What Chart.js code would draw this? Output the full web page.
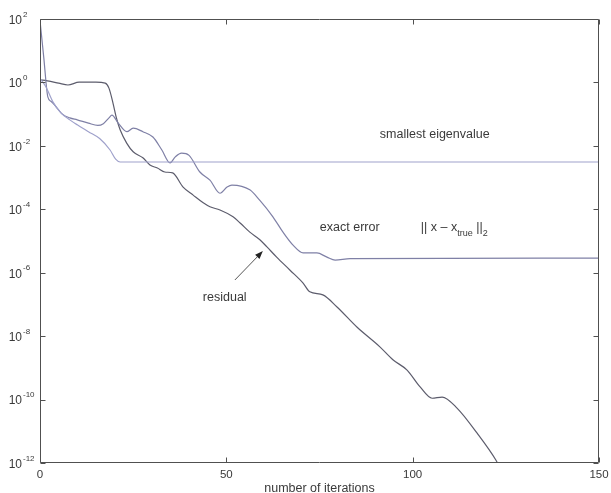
<!DOCTYPE html>
<html>
<head>
<meta charset="utf-8">
<title>Convergence history</title>
<script src="https://cdn.jsdelivr.net/npm/chart.js@4.4.0/dist/chart.umd.min.js"></script>
<style>
  html, body { margin: 0; padding: 0; background: #ffffff; }
  canvas { display: block; }
</style>
</head>
<body>
<canvas id="convChart" width="611" height="493"></canvas>
<script>
// Smallest eigenvalue estimate per iteration
const eigIter = [0, 1.6, 3.5, 5.6, 8, 10, 13, 16, 18.8, 20.3, 21.5, 150];
const eigVals = [1.32, 0.72, 0.24, 0.11, 0.066, 0.046, 0.028, 0.017, 0.0074, 0.0038, 0.0031, 0.0031];

// Exact error || x - x_true ||_2
const errIter = [0, 1, 2.1, 3, 4, 6, 8, 10, 13, 15.5, 17, 18.5, 19.3, 21, 23.3, 25, 27.6, 30.3, 32.7, 34.9,
  36.3, 38, 40, 42.9, 45.6, 48.3, 50.2, 51.5, 56.3, 59, 62.5, 65.2, 67.9, 70.6, 74.3, 77, 79.2, 83.2, 150];
const errVals = [89, 6.3, 0.35, 0.25, 0.19, 0.10, 0.076, 0.066, 0.052, 0.044, 0.050, 0.076, 0.093, 0.052, 0.028,
  0.036, 0.028, 0.019, 0.0074, 0.0029, 0.0045, 0.0059, 0.0050, 0.0015, 8.3e-4, 3.2e-4, 5.0e-4, 5.8e-4, 4.1e-4,
  1.9e-4, 5.8e-5, 1.9e-5, 7.4e-6, 4.2e-6, 4.2e-6, 3.1e-6, 2.5e-6, 2.8e-6, 2.9e-6];

// Residual norm
const resIter = [0, 2, 5, 7.5, 10.5, 15, 17.5, 18.5, 19.6, 20.5, 21.5, 23.3, 25, 27.6, 29.5, 31.5, 33.5, 35.6,
  38.4, 41.1, 43.8, 45.6, 48.3, 51.8, 53.7, 56.3, 59, 60.9, 63.5, 67.1, 70.6, 72.4, 75.9, 79.7, 85.1, 91.2,
  94.7, 98.5, 102, 105.2, 107.9, 111.9, 117.3, 122.4, 123.2];
const resVals = [1.2, 1.12, 0.95, 0.83, 1.02, 1.02, 0.95, 0.66, 0.22, 0.076, 0.032, 0.012, 0.0065, 0.0042,
  0.0025, 0.0020, 0.0015, 0.0014, 5.0e-4, 2.8e-4, 1.6e-4, 1.2e-4, 9.5e-5, 5.8e-5, 3.7e-5, 1.9e-5, 1.1e-5,
  6.5e-6, 3.1e-6, 1.2e-6, 4.7e-7, 2.5e-7, 2.0e-7, 8.3e-8, 1.9e-8, 4.6e-9, 1.8e-9, 8.5e-10, 2.5e-10, 1.1e-10,
  1.2e-10, 5.4e-11, 8.7e-12, 1.2e-12, 8e-13];

const xTicks = [0, 50, 100, 150];
const yTickExps = [2, 0, -2, -4, -6, -8, -10, -12];

// Annotation anchors, in data units (left edge / vertical middle of the text)
const eigLabel = { x: 91.2, y: 0.022 };
const errLabel = { x: 75.1, y: 2.6e-5 };
const normLabel = { x: 102.2, y: 2.6e-5 };
const resLabel = { x: 43.7, y: 1.7e-7 };
const resArrow = { from: { x: 52.3, y: 5.9e-7 }, to: { x: 59.8, y: 4.8e-6 } };

const FONT = '"Liberation Sans", Arial, Helvetica, sans-serif';
const INK = '#3a3a3a';
const AXIS = '#505050';

Chart.defaults.font.family = FONT;

function toPoints(xs, ys) {
    return xs.map((x, i) => ({ x: x, y: ys[i] }));
}

function lineSet(label, xs, ys, color) {
    return {
        label: label,
        data: toPoints(xs, ys),
        borderColor: color,
        borderWidth: 1.2,
        pointRadius: 0,
        fill: false,
        cubicInterpolationMode: 'monotone'
    };
}

// Box frame, inward tick marks, power-of-ten labels and the text annotations
const decorPlugin = {
    id: 'decor',
    afterDraw(chart) {
        const { ctx, chartArea: a, scales } = chart;
        const xs = scales.x;
        const ys = scales.y;
        const L = Math.round(a.left) + 0.5;
        const R = Math.round(a.right) - 0.5;
        const T = Math.round(a.top) + 0.5;
        const B = Math.round(a.bottom) - 0.5;

        ctx.save();
        ctx.strokeStyle = AXIS;
        ctx.lineWidth = 1;
        ctx.beginPath();
        ctx.rect(L, T, R - L, B - T);

        yTickExps.forEach(e => {
            const py = Math.round(ys.getPixelForValue(Math.pow(10, e))) + 0.5;
            ctx.moveTo(L, py); ctx.lineTo(L + 5, py);
            ctx.moveTo(R, py); ctx.lineTo(R - 5, py);
        });
        xTicks.forEach(v => {
            const px = Math.round(xs.getPixelForValue(v)) + 0.5;
            ctx.moveTo(px, B); ctx.lineTo(px, B - 5);
            ctx.moveTo(px, T); ctx.lineTo(px, T + 5);
        });
        ctx.stroke();

        // y tick labels: 10 with a raised exponent
        ctx.fillStyle = INK;
        ctx.textBaseline = 'middle';
        yTickExps.forEach(e => {
            const py = ys.getPixelForValue(Math.pow(10, e));
            ctx.font = '12px ' + FONT;
            ctx.textAlign = 'right';
            ctx.fillText('10', 22, py + 1.5);
            ctx.font = '8px ' + FONT;
            ctx.textAlign = 'left';
            ctx.fillText(String(e), 23, py - 4.5);
        });

        // curve labels
        ctx.font = '12.5px ' + FONT;
        ctx.textAlign = 'left';
        const at = p => [xs.getPixelForValue(p.x), ys.getPixelForValue(p.y)];

        let [px, py] = at(eigLabel);
        ctx.fillText('smallest eigenvalue', px, py);
        [px, py] = at(errLabel);
        ctx.fillText('exact error', px, py);
        [px, py] = at(resLabel);
        ctx.fillText('residual', px, py);

        // || x − x_true ||_2 with subscripts
        [px, py] = at(normLabel);
        const big = '12.5px ' + FONT;
        const small = '9px ' + FONT;
        const parts = [
            { t: '|| x \u2013 x', f: big, dy: 0 },
            { t: 'true', f: small, dy: 6 },
            { t: ' ||', f: big, dy: 0 },
            { t: '2', f: small, dy: 6 }
        ];
        parts.forEach(p => {
            ctx.font = p.f;
            ctx.fillText(p.t, px, py + p.dy);
            px += ctx.measureText(p.t).width;
        });

        // arrow pointing at the residual curve
        const [x0, y0] = at(resArrow.from);
        const [x1, y1] = at(resArrow.to);
        const ang = Math.atan2(y1 - y0, x1 - x0);
        const head = 8;
        const half = 3;
        const bx = x1 - head * Math.cos(ang);
        const by = y1 - head * Math.sin(ang);
        ctx.strokeStyle = '#555';
        ctx.lineWidth = 1;
        ctx.beginPath();
        ctx.moveTo(x0, y0);
        ctx.lineTo(bx, by);
        ctx.stroke();
        ctx.fillStyle = '#222';
        ctx.beginPath();
        ctx.moveTo(x1, y1);
        ctx.lineTo(bx + half * Math.sin(ang), by - half * Math.cos(ang));
        ctx.lineTo(bx - half * Math.sin(ang), by + half * Math.cos(ang));
        ctx.closePath();
        ctx.fill();

        ctx.restore();
    }
};

const convChart = new Chart(document.getElementById('convChart'), {
    type: 'line',
    data: {
        datasets: [
            lineSet('smallest eigenvalue', eigIter, eigVals, '#9fa1cb'),
            lineSet('exact error', errIter, errVals, '#7f80a6'),
            lineSet('residual', resIter, resVals, '#5c5c6c')
        ]
    },
    options: {
        responsive: false,
        animation: false,
        devicePixelRatio: 1,
        layout: { padding: { left: 0, right: 12, top: 19, bottom: 0 } },
        plugins: {
            legend: { display: false },
            tooltip: { enabled: false }
        },
        scales: {
            x: {
                type: 'linear',
                min: 0,
                max: 150,
                grid: { display: false, drawTicks: false },
                border: { display: false },
                afterBuildTicks: scale => { scale.ticks = xTicks.map(v => ({ value: v })); },
                afterFit: scale => {
                    // keep the plot box fixed; the end labels may overhang it
                    scale.height = 30;
                    scale.paddingLeft = 0;
                    scale.paddingRight = 0;
                },
                ticks: {
                    color: INK,
                    padding: 5,
                    maxRotation: 0,
                    font: { size: 11.5 }
                },
                title: {
                    display: true,
                    text: 'number of iterations',
                    color: INK,
                    font: { size: 12.5 },
                    padding: { top: 0, bottom: -3 }
                }
            },
            y: {
                type: 'logarithmic',
                min: 1e-12,
                max: 1e2,
                grid: { display: false, drawTicks: false },
                border: { display: false },
                ticks: { display: false },
                afterFit: scale => { scale.width = 40; }
            }
        }
    },
    plugins: [decorPlugin]
});
</script>
</body>
</html>
